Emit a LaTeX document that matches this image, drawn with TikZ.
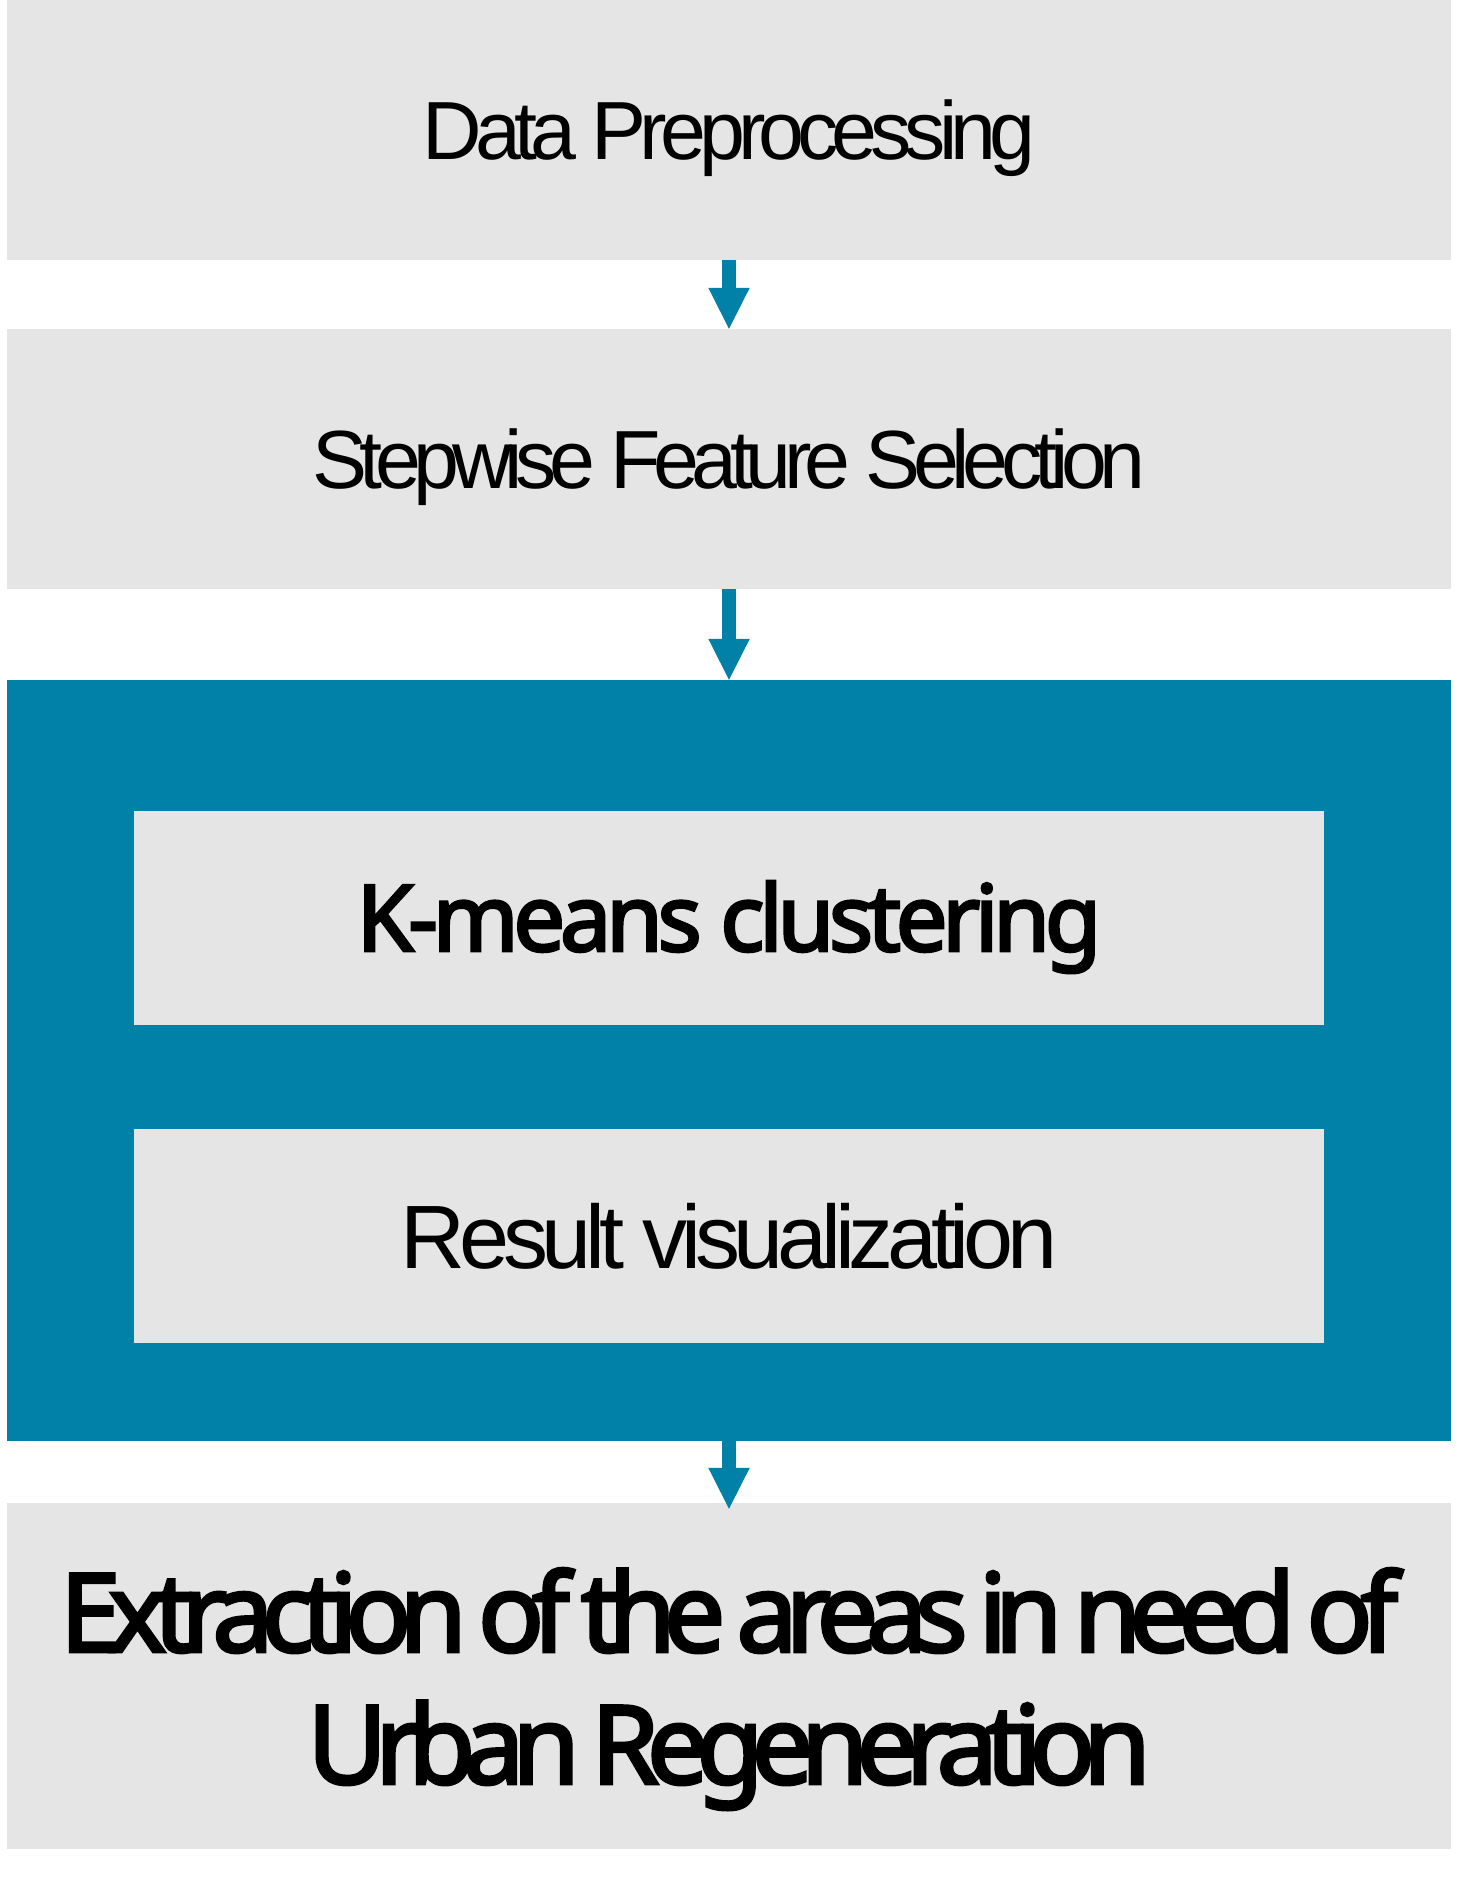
\documentclass[tikz,border=0pt]{standalone}
\usepackage{fontspec}
\usetikzlibrary{arrows.meta}
\newfontfamily\regfont{Liberation Sans}[LetterSpace=-8.5]
\newfontfamily\regwidefont{Liberation Sans}[LetterSpace=-7]
\newfontfamily\regtightfont{Liberation Sans}[LetterSpace=-9]
\newfontfamily\heavyfont{Noto Sans}[FakeBold=3,LetterSpace=-5.8]
\newfontfamily\heavytightfont{Noto Sans}[FakeBold=3,LetterSpace=-11,WordSpace=0.7]
\definecolor{flowblue}{HTML}{0181A7}
\definecolor{boxgrey}{HTML}{E5E5E5}
\begin{document}
\begin{tikzpicture}[x=1pt,y=-1pt,
  greybox/.style={fill=boxgrey,draw=none,inner sep=0pt,rectangle,text=black},
  outerbox/.style={greybox,minimum width=1444pt},
  innerbox/.style={greybox,minimum width=1190pt,minimum height=214pt},
  plaintext/.style={font=\fontsize{82.5}{99}\regfont,text height=59pt,text depth=0pt},
  heavytext/.style={font=\fontsize{92}{110}\heavyfont,text height=66pt,text depth=0pt},
  flowarrow/.style={draw=flowblue,line width=14pt,
    -{Triangle[width=41.5pt,length=41pt,line width=0pt,fill=flowblue]}}]
\useasboundingbox (0,0) rectangle (1458,1878);
% stages of the workflow
\node[outerbox,minimum height=260pt,plaintext] (prep) at (729,130) {Data Preprocessing};
\node[outerbox,minimum height=260pt,plaintext,font=\fontsize{82.5}{99}\regtightfont]
  (select) at (729,459) {Stepwise Feature Selection};
\node[fill=flowblue,inner sep=0pt,minimum width=1444pt,minimum height=761pt] (cluster) at (729,1060.5) {};
\node[innerbox,heavytext] (kmeans) at (729,918) {K-means clustering};
\node[innerbox,font=\fontsize{90}{108}\regwidefont,text height=64.4pt,text depth=0pt]
  (vis) at (729,1236) {Result visualization};
\node[outerbox,minimum height=346pt,align=center,text depth=0pt,
  font=\fontsize{109}{132}\heavytightfont] (extract) at (729,1676)
  {Extraction of the areas in need of\\Urban Regeneration};
% connectors
\draw[flowarrow] (prep.south) -- (select.north);
\draw[flowarrow] (select.south) -- (cluster.north);
\draw[flowarrow,shorten >=-6pt] (cluster.south) -- (extract.north);
\end{tikzpicture}
\end{document}
